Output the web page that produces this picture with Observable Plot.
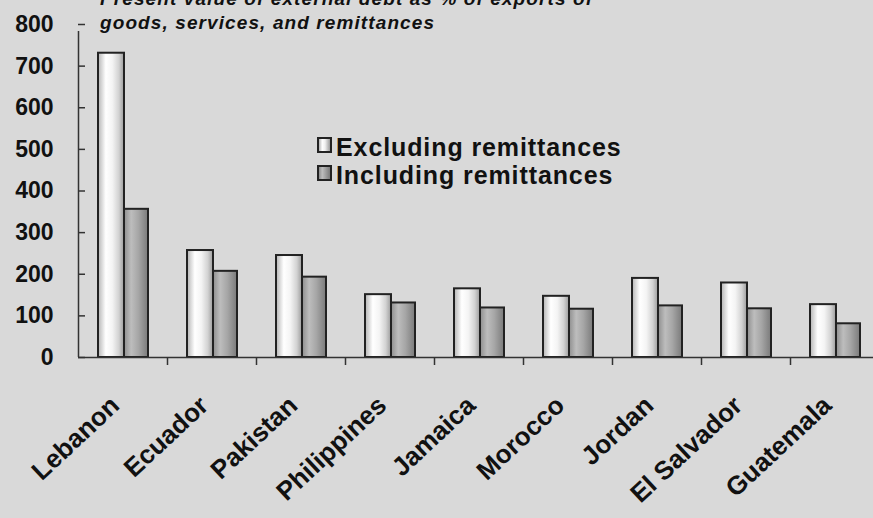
<!DOCTYPE html>
<html>
<head>
<meta charset="utf-8">
<script src="https://cdn.jsdelivr.net/npm/d3@7"></script>
<script src="https://cdn.jsdelivr.net/npm/@observablehq/plot@0.6"></script>
<style>
  html, body { margin: 0; padding: 0; background: #d9d9d9; overflow: hidden; }
  #wrap { position: relative; width: 873px; height: 518px; font-family: "Liberation Sans", Arial, sans-serif; color: #111; }
  #title { position: absolute; left: 100px; top: -13px; font-size: 19px; line-height: 24px; font-weight: bold; font-style: italic; white-space: nowrap; letter-spacing: 1.1px; }
  .leg { position: absolute; left: 317px; font-size: 25px; line-height: 28px; font-weight: bold; white-space: nowrap; letter-spacing: 0.9px; }
  .box { display: inline-block; width: 11px; height: 12px; border: 2px solid #222; vertical-align: 3px; margin-right: 4px; }
  #plot { position: absolute; left: 0; top: 0; }
</style>
</head>
<body>
<div id="wrap">
  <div id="plot"></div>
  <div id="title"></div>
  <div id="legend"></div>
</div>
<script>
// ---- data ----
const countries = ["Lebanon", "Ecuador", "Pakistan", "Philippines", "Jamaica", "Morocco", "Jordan", "El Salvador", "Guatemala"];
const excludingRemittances = [731, 257, 245, 151, 165, 147, 190, 179, 127];
const includingRemittances = [356, 207, 193, 131, 119, 116, 124, 117, 81];
const yTicks = [0, 100, 200, 300, 400, 500, 600, 700, 800];
const seriesNames = ["Excluding remittances", "Including remittances"];
const titleLines = ["Present value of external debt as % of exports of", "goods, services, and remittances"];

const table = countries.map((c, i) => ({country: c, excl: excludingRemittances[i], incl: includingRemittances[i]}));

// ---- layout constants ----
const W = 873, H = 518;
const xRange = [78, 879];
const step = (xRange[1] - xRange[0]) / countries.length;
const ink = "#111", axisInk = "#333";

const defs = () => {
  const d = d3.create("svg:defs");
  const mk = (id, stops) => {
    const g = d.append("linearGradient").attr("id", id).attr("x1", 0).attr("x2", 1).attr("y1", 0).attr("y2", 0);
    stops.forEach(([o, c]) => g.append("stop").attr("offset", o).attr("stop-color", c));
  };
  mk("gEx", [[0, "#b4b4b4"], [0.3, "#ffffff"], [0.55, "#f4f4f4"], [0.8, "#d2d2d2"], [1, "#9c9c9c"]]);
  mk("gIn", [[0, "#8e8e8e"], [0.3, "#bdbdbd"], [0.6, "#a6a6a6"], [1, "#7a7a7a"]]);
  return d.node();
};

const chart = Plot.plot({
  width: W,
  height: H,
  marginLeft: 78,
  marginRight: 0,
  marginTop: 24,
  marginBottom: 161,
  style: {background: "#d9d9d9", fontFamily: "Liberation Sans, Arial, sans-serif", color: ink, overflow: "hidden"},
  x: {domain: countries, range: xRange, padding: 0, axis: null},
  y: {domain: [0, 800], label: null},
  marks: [
    defs,
    Plot.barY(table, {x: "country", y: "excl", fill: "url(#gEx)", stroke: "#222", strokeWidth: 2, insetLeft: 20, insetRight: 43}),
    Plot.barY(table, {x: "country", y: "incl", fill: "url(#gIn)", stroke: "#222", strokeWidth: 2, insetLeft: 46, insetRight: 19}),
    Plot.ruleY([0], {stroke: axisInk, strokeWidth: 1.5}),
    Plot.ruleX([countries[0]], {x: d => d, y1: 0, y2: 800, dx: -step / 2, insetBottom: -7, stroke: axisInk, strokeWidth: 1.5}),
    Plot.ruleX(countries.slice(1), {x: d => d, y1: 0, y2: 0, dx: -step / 2, insetBottom: -8, stroke: axisInk, strokeWidth: 1.5}),
    Plot.axisY(yTicks, {anchor: "left", tickSize: 7, dx: 7, fill: "none", stroke: axisInk, strokeWidth: 1.5, label: null}),
    Plot.axisY(yTicks, {anchor: "left", tickSize: 0, tickPadding: 25, fontSize: 23, fontWeight: "bold", fill: ink, label: null}),
    Plot.text(countries, {x: d => d, frameAnchor: "bottom", textAnchor: "end", rotate: -43, dx: -2, dy: 50, fontSize: 26, fontWeight: "bold", fill: ink})
  ]
});
document.getElementById("plot").appendChild(chart);

document.getElementById("title").innerHTML = titleLines.map(t => `<div>${t}</div>`).join("");

const legend = document.getElementById("legend");
const fills = ["linear-gradient(90deg,#b4b4b4,#ffffff 30%,#f0f0f0 55%,#9c9c9c)", "linear-gradient(90deg,#8e8e8e,#bdbdbd 30%,#7a7a7a)"];
seriesNames.forEach((name, i) => {
  const row = document.createElement("div");
  row.className = "leg";
  row.style.top = (133 + i * 28) + "px";
  row.innerHTML = `<span class="box" style="background:${fills[i]}"></span>${name}`;
  legend.appendChild(row);
});
</script>
</body>
</html>
